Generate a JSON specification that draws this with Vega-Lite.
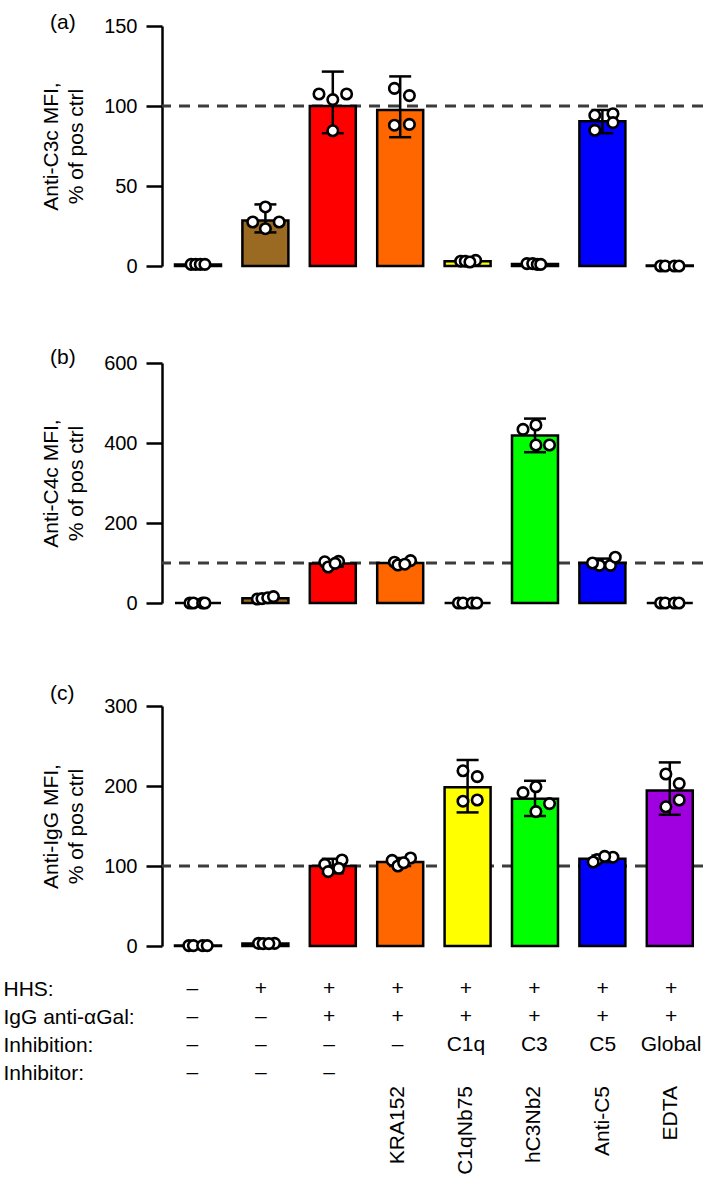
{
  "$schema": "https://vega.github.io/schema/vega-lite/v6.json",
  "padding": {"left": 3, "top": 12, "right": 0, "bottom": 0},
  "autosize": {"type": "pad"},
  "spacing": 18,
  "config": {
    "view": {"stroke": null},
    "font": "Liberation Sans",
    "axis": {"domainColor": "black", "tickColor": "black", "labelColor": "black", "titleColor": "black", "domainWidth": 2.5, "tickWidth": 2.5, "labelFontSize": 20, "titleFontSize": 21, "titleFontWeight": "normal", "grid": false, "tickSize": 16, "labelPadding": 9},
    "title": {"fontSize": 21, "fontWeight": "normal", "color": "black"}
  },
  "datasets": {
    "bars": [
      {"panel": "a", "grp": "neg", "mean": 1, "lo": 0.5, "hi": 1.5},
      {"panel": "a", "grp": "HHS", "mean": 28.5, "lo": 21, "hi": 38.5},
      {"panel": "a", "grp": "IgG+HHS", "mean": 100, "lo": 83, "hi": 121.5},
      {"panel": "a", "grp": "KRA152", "mean": 97.5, "lo": 80.5, "hi": 118.5},
      {"panel": "a", "grp": "C1qNb75", "mean": 3, "lo": 2, "hi": 4},
      {"panel": "a", "grp": "hC3Nb2", "mean": 1.2, "lo": 0.8, "hi": 1.6},
      {"panel": "a", "grp": "Anti-C5", "mean": 90.5, "lo": 83, "hi": 97.5},
      {"panel": "a", "grp": "EDTA", "mean": 0.3, "lo": 0, "hi": 0.6},
      {"panel": "b", "grp": "neg", "mean": 0, "lo": 0, "hi": 0},
      {"panel": "b", "grp": "HHS", "mean": 12, "lo": 9, "hi": 15},
      {"panel": "b", "grp": "IgG+HHS", "mean": 99, "lo": 91, "hi": 106},
      {"panel": "b", "grp": "KRA152", "mean": 100, "lo": 95, "hi": 105},
      {"panel": "b", "grp": "C1qNb75", "mean": 0, "lo": 0, "hi": 0},
      {"panel": "b", "grp": "hC3Nb2", "mean": 419, "lo": 377, "hi": 461},
      {"panel": "b", "grp": "Anti-C5", "mean": 100, "lo": 90, "hi": 111},
      {"panel": "b", "grp": "EDTA", "mean": 0, "lo": 0, "hi": 0},
      {"panel": "c", "grp": "neg", "mean": 0.5, "lo": 0.3, "hi": 0.7},
      {"panel": "c", "grp": "HHS", "mean": 3, "lo": 2, "hi": 4},
      {"panel": "c", "grp": "IgG+HHS", "mean": 100, "lo": 91, "hi": 109},
      {"panel": "c", "grp": "KRA152", "mean": 105, "lo": 100, "hi": 110},
      {"panel": "c", "grp": "C1qNb75", "mean": 198.5, "lo": 167, "hi": 232.5},
      {"panel": "c", "grp": "hC3Nb2", "mean": 184, "lo": 162.5, "hi": 206.5},
      {"panel": "c", "grp": "Anti-C5", "mean": 109, "lo": 105, "hi": 113},
      {"panel": "c", "grp": "EDTA", "mean": 194.5, "lo": 164, "hi": 229.5}
    ],
    "pts": [
      {"panel": "a", "grp": "neg", "val": 1, "jit": -0.3},
      {"panel": "a", "grp": "neg", "val": 1, "jit": -0.1},
      {"panel": "a", "grp": "neg", "val": 1, "jit": 0.1},
      {"panel": "a", "grp": "neg", "val": 1, "jit": 0.3},
      {"panel": "a", "grp": "HHS", "val": 36.9, "jit": 0},
      {"panel": "a", "grp": "HHS", "val": 27.5, "jit": -0.55},
      {"panel": "a", "grp": "HHS", "val": 27.5, "jit": 0.6},
      {"panel": "a", "grp": "HHS", "val": 23.3, "jit": 0},
      {"panel": "a", "grp": "IgG+HHS", "val": 107.5, "jit": -0.6},
      {"panel": "a", "grp": "IgG+HHS", "val": 107.5, "jit": 0.6},
      {"panel": "a", "grp": "IgG+HHS", "val": 104, "jit": 0},
      {"panel": "a", "grp": "IgG+HHS", "val": 84.5, "jit": 0},
      {"panel": "a", "grp": "KRA152", "val": 111, "jit": -0.25},
      {"panel": "a", "grp": "KRA152", "val": 106.5, "jit": 0.4},
      {"panel": "a", "grp": "KRA152", "val": 88, "jit": -0.25},
      {"panel": "a", "grp": "KRA152", "val": 88.5, "jit": 0.4},
      {"panel": "a", "grp": "C1qNb75", "val": 3, "jit": -0.3},
      {"panel": "a", "grp": "C1qNb75", "val": 3.5, "jit": 0.35},
      {"panel": "a", "grp": "C1qNb75", "val": 3, "jit": -0.1},
      {"panel": "a", "grp": "C1qNb75", "val": 2.5, "jit": 0.1},
      {"panel": "a", "grp": "hC3Nb2", "val": 1.5, "jit": -0.35},
      {"panel": "a", "grp": "hC3Nb2", "val": 1.5, "jit": -0.1},
      {"panel": "a", "grp": "hC3Nb2", "val": 1, "jit": 0.1},
      {"panel": "a", "grp": "hC3Nb2", "val": 1, "jit": 0.25},
      {"panel": "a", "grp": "Anti-C5", "val": 94.2, "jit": -0.33},
      {"panel": "a", "grp": "Anti-C5", "val": 95.2, "jit": 0.46},
      {"panel": "a", "grp": "Anti-C5", "val": 89.6, "jit": 0.46},
      {"panel": "a", "grp": "Anti-C5", "val": 84.8, "jit": -0.33},
      {"panel": "a", "grp": "EDTA", "val": 0, "jit": -0.4},
      {"panel": "a", "grp": "EDTA", "val": 0, "jit": -0.2},
      {"panel": "a", "grp": "EDTA", "val": 0, "jit": 0.2},
      {"panel": "a", "grp": "EDTA", "val": 0, "jit": 0.4},
      {"panel": "b", "grp": "neg", "val": 0, "jit": -0.35},
      {"panel": "b", "grp": "neg", "val": 0, "jit": -0.2},
      {"panel": "b", "grp": "neg", "val": 0, "jit": 0.2},
      {"panel": "b", "grp": "neg", "val": 0, "jit": 0.3},
      {"panel": "b", "grp": "HHS", "val": 10, "jit": -0.35},
      {"panel": "b", "grp": "HHS", "val": 11, "jit": -0.15},
      {"panel": "b", "grp": "HHS", "val": 13, "jit": 0.1},
      {"panel": "b", "grp": "HHS", "val": 16, "jit": 0.35},
      {"panel": "b", "grp": "IgG+HHS", "val": 103, "jit": -0.35},
      {"panel": "b", "grp": "IgG+HHS", "val": 104, "jit": 0.25},
      {"panel": "b", "grp": "IgG+HHS", "val": 90, "jit": -0.2},
      {"panel": "b", "grp": "IgG+HHS", "val": 99, "jit": 0.1},
      {"panel": "b", "grp": "KRA152", "val": 102, "jit": -0.25},
      {"panel": "b", "grp": "KRA152", "val": 106, "jit": 0.45},
      {"panel": "b", "grp": "KRA152", "val": 95, "jit": -0.1},
      {"panel": "b", "grp": "KRA152", "val": 97, "jit": 0.2},
      {"panel": "b", "grp": "C1qNb75", "val": 0, "jit": -0.4},
      {"panel": "b", "grp": "C1qNb75", "val": 0, "jit": -0.2},
      {"panel": "b", "grp": "C1qNb75", "val": 0, "jit": 0.2},
      {"panel": "b", "grp": "C1qNb75", "val": 0, "jit": 0.4},
      {"panel": "b", "grp": "hC3Nb2", "val": 434, "jit": -0.52},
      {"panel": "b", "grp": "hC3Nb2", "val": 445, "jit": 0.04},
      {"panel": "b", "grp": "hC3Nb2", "val": 395, "jit": 0.04},
      {"panel": "b", "grp": "hC3Nb2", "val": 395, "jit": 0.63},
      {"panel": "b", "grp": "Anti-C5", "val": 94, "jit": -0.13},
      {"panel": "b", "grp": "Anti-C5", "val": 94, "jit": 0.35},
      {"panel": "b", "grp": "Anti-C5", "val": 114.5, "jit": 0.56},
      {"panel": "b", "grp": "Anti-C5", "val": 100, "jit": -0.43},
      {"panel": "b", "grp": "EDTA", "val": 0, "jit": -0.4},
      {"panel": "b", "grp": "EDTA", "val": 0, "jit": -0.2},
      {"panel": "b", "grp": "EDTA", "val": 0, "jit": 0.2},
      {"panel": "b", "grp": "EDTA", "val": 0, "jit": 0.4},
      {"panel": "c", "grp": "neg", "val": 0.5, "jit": -0.4},
      {"panel": "c", "grp": "neg", "val": 0.5, "jit": -0.2},
      {"panel": "c", "grp": "neg", "val": 0.5, "jit": 0.2},
      {"panel": "c", "grp": "neg", "val": 0.5, "jit": 0.4},
      {"panel": "c", "grp": "HHS", "val": 3.3, "jit": -0.3},
      {"panel": "c", "grp": "HHS", "val": 3.3, "jit": 0.4},
      {"panel": "c", "grp": "HHS", "val": 3, "jit": -0.1},
      {"panel": "c", "grp": "HHS", "val": 3, "jit": 0.15},
      {"panel": "c", "grp": "IgG+HHS", "val": 102, "jit": -0.35},
      {"panel": "c", "grp": "IgG+HHS", "val": 107.5, "jit": 0.4},
      {"panel": "c", "grp": "IgG+HHS", "val": 93, "jit": -0.2},
      {"panel": "c", "grp": "IgG+HHS", "val": 97, "jit": 0.26},
      {"panel": "c", "grp": "KRA152", "val": 107, "jit": -0.35},
      {"panel": "c", "grp": "KRA152", "val": 110, "jit": 0.45},
      {"panel": "c", "grp": "KRA152", "val": 100, "jit": -0.1},
      {"panel": "c", "grp": "KRA152", "val": 104, "jit": 0.15},
      {"panel": "c", "grp": "C1qNb75", "val": 219, "jit": -0.2},
      {"panel": "c", "grp": "C1qNb75", "val": 211.7, "jit": 0.42},
      {"panel": "c", "grp": "C1qNb75", "val": 181, "jit": -0.2},
      {"panel": "c", "grp": "C1qNb75", "val": 182.5, "jit": 0.42},
      {"panel": "c", "grp": "hC3Nb2", "val": 191.7, "jit": -0.52},
      {"panel": "c", "grp": "hC3Nb2", "val": 199, "jit": 0.04},
      {"panel": "c", "grp": "hC3Nb2", "val": 178, "jit": 0.63},
      {"panel": "c", "grp": "hC3Nb2", "val": 168, "jit": 0.04},
      {"panel": "c", "grp": "Anti-C5", "val": 108, "jit": -0.23},
      {"panel": "c", "grp": "Anti-C5", "val": 111, "jit": 0.46},
      {"panel": "c", "grp": "Anti-C5", "val": 112, "jit": 0.1},
      {"panel": "c", "grp": "Anti-C5", "val": 105, "jit": -0.4},
      {"panel": "c", "grp": "EDTA", "val": 215, "jit": -0.17},
      {"panel": "c", "grp": "EDTA", "val": 203, "jit": 0.41},
      {"panel": "c", "grp": "EDTA", "val": 182.5, "jit": 0.41},
      {"panel": "c", "grp": "EDTA", "val": 174, "jit": -0.17}
    ],
    "tbl": [
      {"grp": "neg", "row": "HHS:", "txt": "–"},
      {"grp": "HHS", "row": "HHS:", "txt": "+"},
      {"grp": "IgG+HHS", "row": "HHS:", "txt": "+"},
      {"grp": "KRA152", "row": "HHS:", "txt": "+"},
      {"grp": "C1qNb75", "row": "HHS:", "txt": "+"},
      {"grp": "hC3Nb2", "row": "HHS:", "txt": "+"},
      {"grp": "Anti-C5", "row": "HHS:", "txt": "+"},
      {"grp": "EDTA", "row": "HHS:", "txt": "+"},
      {"grp": "neg", "row": "IgG anti-αGal:", "txt": "–"},
      {"grp": "HHS", "row": "IgG anti-αGal:", "txt": "–"},
      {"grp": "IgG+HHS", "row": "IgG anti-αGal:", "txt": "+"},
      {"grp": "KRA152", "row": "IgG anti-αGal:", "txt": "+"},
      {"grp": "C1qNb75", "row": "IgG anti-αGal:", "txt": "+"},
      {"grp": "hC3Nb2", "row": "IgG anti-αGal:", "txt": "+"},
      {"grp": "Anti-C5", "row": "IgG anti-αGal:", "txt": "+"},
      {"grp": "EDTA", "row": "IgG anti-αGal:", "txt": "+"},
      {"grp": "neg", "row": "Inhibition:", "txt": "–"},
      {"grp": "HHS", "row": "Inhibition:", "txt": "–"},
      {"grp": "IgG+HHS", "row": "Inhibition:", "txt": "–"},
      {"grp": "KRA152", "row": "Inhibition:", "txt": "–"},
      {"grp": "C1qNb75", "row": "Inhibition:", "txt": "C1q"},
      {"grp": "hC3Nb2", "row": "Inhibition:", "txt": "C3"},
      {"grp": "Anti-C5", "row": "Inhibition:", "txt": "C5"},
      {"grp": "EDTA", "row": "Inhibition:", "txt": "Global"},
      {"grp": "neg", "row": "Inhibitor:", "txt": "–"},
      {"grp": "HHS", "row": "Inhibitor:", "txt": "–"},
      {"grp": "IgG+HHS", "row": "Inhibitor:", "txt": "–"},
      {"grp": "KRA152", "row": "Inhibitor:", "txt": "KRA152"},
      {"grp": "C1qNb75", "row": "Inhibitor:", "txt": "C1qNb75"},
      {"grp": "hC3Nb2", "row": "Inhibitor:", "txt": "hC3Nb2"},
      {"grp": "Anti-C5", "row": "Inhibitor:", "txt": "Anti-C5"},
      {"grp": "EDTA", "row": "Inhibitor:", "txt": "EDTA"}
    ],
    "ref": [{"pos": 100}]
  },
  "vconcat": [
    {
      "title": {"text": "(a)", "anchor": "start", "frame": "group", "dx": -112, "offset": -28, "baseline": "middle"},
      "width": 547, "height": 240,
      "layer": [
        {"data": {"name": "ref"}, "mark": {"type": "rule", "strokeDash": [11, 8], "strokeDashOffset": 13, "strokeWidth": 3, "color": "#3c3c3c"}, "encoding": {"y": {"field": "pos", "type": "quantitative"}}},
        {"data": {"name": "bars"}, "transform": [{"filter": "datum.panel === 'a'"}],
         "mark": {"type": "bar", "stroke": "black", "strokeWidth": 2.5, "width": 46},
         "encoding": {
           "x": {"field": "grp", "type": "nominal", "axis": {"labels": false, "ticks": false, "domain": false, "title": null, "minExtent": 63, "maxExtent": 63}, "scale": {"domain": ["neg", "HHS", "IgG+HHS", "KRA152", "C1qNb75", "hC3Nb2", "Anti-C5", "EDTA"], "paddingInner": 0.317, "paddingOuter": 0.2165, "align": 0.445}},
           "y": {"field": "mean", "type": "quantitative", "scale": {"domain": [0, 150], "nice": false}, "axis": {"values": [0, 50, 100, 150], "title": ["Anti-C3c MFI,", "% of pos ctrl"], "titleLineHeight": 25, "titlePadding": 17}},
           "color": {"field": "grp", "type": "nominal", "legend": null, "scale": {"domain": ["neg", "HHS", "IgG+HHS", "KRA152", "C1qNb75", "hC3Nb2", "Anti-C5", "EDTA"], "range": ["#ffffff", "#9B6A22", "#FF0000", "#FF6600", "#FFFF00", "#00FF00", "#0000FF", "#A000E0"]}}
         }},
        {"data": {"name": "bars"}, "transform": [{"filter": "datum.panel === 'a'"}], "mark": {"type": "rule", "strokeWidth": 2.5, "color": "black"}, "encoding": {"x": {"field": "grp", "type": "nominal"}, "y": {"field": "lo", "type": "quantitative"}, "y2": {"field": "hi"}}},
        {"data": {"name": "bars"}, "transform": [{"filter": "datum.panel === 'a'"}], "mark": {"type": "tick", "size": 22, "thickness": 2.5, "color": "black", "opacity": 1}, "encoding": {"x": {"field": "grp", "type": "nominal"}, "y": {"field": "lo", "type": "quantitative"}}},
        {"data": {"name": "bars"}, "transform": [{"filter": "datum.panel === 'a'"}], "mark": {"type": "tick", "size": 22, "thickness": 2.5, "color": "black", "opacity": 1}, "encoding": {"x": {"field": "grp", "type": "nominal"}, "y": {"field": "hi", "type": "quantitative"}}},
        {"data": {"name": "pts"}, "transform": [{"filter": "datum.panel === 'a'"}], "mark": {"type": "point", "shape": "circle", "filled": false, "fill": "white", "fillOpacity": 1, "stroke": "black", "strokeWidth": 2.6, "size": 110, "opacity": 1}, "encoding": {"x": {"field": "grp", "type": "nominal"}, "xOffset": {"field": "jit", "type": "quantitative", "scale": {"domain": [-1, 1]}}, "y": {"field": "val", "type": "quantitative"}}}
      ]
    },
    {
      "title": {"text": "(b)", "anchor": "start", "frame": "group", "dx": -112, "offset": -26, "baseline": "middle"},
      "width": 547, "height": 240,
      "layer": [
        {"data": {"name": "ref"}, "mark": {"type": "rule", "strokeDash": [11, 8], "strokeDashOffset": 13, "strokeWidth": 3, "color": "#3c3c3c"}, "encoding": {"y": {"field": "pos", "type": "quantitative"}}},
        {"data": {"name": "bars"}, "transform": [{"filter": "datum.panel === 'b'"}],
         "mark": {"type": "bar", "stroke": "black", "strokeWidth": 2.5, "width": 46},
         "encoding": {
           "x": {"field": "grp", "type": "nominal", "axis": {"labels": false, "ticks": false, "domain": false, "title": null, "minExtent": 62, "maxExtent": 62}, "scale": {"domain": ["neg", "HHS", "IgG+HHS", "KRA152", "C1qNb75", "hC3Nb2", "Anti-C5", "EDTA"], "paddingInner": 0.317, "paddingOuter": 0.2165, "align": 0.445}},
           "y": {"field": "mean", "type": "quantitative", "scale": {"domain": [0, 600], "nice": false}, "axis": {"values": [0, 100, 200, 300, 400, 500, 600], "labelExpr": "datum.value % 200 === 0 ? datum.label : ''", "tickSize": {"condition": {"test": "datum.value % 200 === 0", "value": 16}, "value": 10}, "title": ["Anti-C4c MFI,", "% of pos ctrl"], "titleLineHeight": 25, "titlePadding": 17}},
           "color": {"field": "grp", "type": "nominal", "legend": null, "scale": {"domain": ["neg", "HHS", "IgG+HHS", "KRA152", "C1qNb75", "hC3Nb2", "Anti-C5", "EDTA"], "range": ["#ffffff", "#9B6A22", "#FF0000", "#FF6600", "#FFFF00", "#00FF00", "#0000FF", "#A000E0"]}}
         }},
        {"data": {"name": "bars"}, "transform": [{"filter": "datum.panel === 'b'"}], "mark": {"type": "rule", "strokeWidth": 2.5, "color": "black"}, "encoding": {"x": {"field": "grp", "type": "nominal"}, "y": {"field": "lo", "type": "quantitative"}, "y2": {"field": "hi"}}},
        {"data": {"name": "bars"}, "transform": [{"filter": "datum.panel === 'b'"}], "mark": {"type": "tick", "size": 22, "thickness": 2.5, "color": "black", "opacity": 1}, "encoding": {"x": {"field": "grp", "type": "nominal"}, "y": {"field": "lo", "type": "quantitative"}}},
        {"data": {"name": "bars"}, "transform": [{"filter": "datum.panel === 'b'"}], "mark": {"type": "tick", "size": 22, "thickness": 2.5, "color": "black", "opacity": 1}, "encoding": {"x": {"field": "grp", "type": "nominal"}, "y": {"field": "hi", "type": "quantitative"}}},
        {"data": {"name": "pts"}, "transform": [{"filter": "datum.panel === 'b'"}], "mark": {"type": "point", "shape": "circle", "filled": false, "fill": "white", "fillOpacity": 1, "stroke": "black", "strokeWidth": 2.6, "size": 110, "opacity": 1}, "encoding": {"x": {"field": "grp", "type": "nominal"}, "xOffset": {"field": "jit", "type": "quantitative", "scale": {"domain": [-1, 1]}}, "y": {"field": "val", "type": "quantitative"}}}
      ]
    },
    {
      "title": {"text": "(c)", "anchor": "start", "frame": "group", "dx": -112, "offset": -19, "baseline": "middle"},
      "width": 547, "height": 240,
      "layer": [
        {"data": {"name": "ref"}, "mark": {"type": "rule", "strokeDash": [11, 8], "strokeDashOffset": 13, "strokeWidth": 3, "color": "#3c3c3c"}, "encoding": {"y": {"field": "pos", "type": "quantitative"}}},
        {"data": {"name": "bars"}, "transform": [{"filter": "datum.panel === 'c'"}],
         "mark": {"type": "bar", "stroke": "black", "strokeWidth": 2.5, "width": 46},
         "encoding": {
           "x": {"field": "grp", "type": "nominal", "axis": null, "scale": {"domain": ["neg", "HHS", "IgG+HHS", "KRA152", "C1qNb75", "hC3Nb2", "Anti-C5", "EDTA"], "paddingInner": 0.317, "paddingOuter": 0.2165, "align": 0.445}},
           "y": {"field": "mean", "type": "quantitative", "scale": {"domain": [0, 300], "nice": false}, "axis": {"values": [0, 50, 100, 150, 200, 250, 300], "labelExpr": "datum.value % 100 === 0 ? datum.label : ''", "tickSize": {"condition": {"test": "datum.value % 100 === 0", "value": 16}, "value": 10}, "title": ["Anti-IgG MFI,", "% of pos ctrl"], "titleLineHeight": 25, "titlePadding": 17}},
           "color": {"field": "grp", "type": "nominal", "legend": null, "scale": {"domain": ["neg", "HHS", "IgG+HHS", "KRA152", "C1qNb75", "hC3Nb2", "Anti-C5", "EDTA"], "range": ["#ffffff", "#9B6A22", "#FF0000", "#FF6600", "#FFFF00", "#00FF00", "#0000FF", "#A000E0"]}}
         }},
        {"data": {"name": "bars"}, "transform": [{"filter": "datum.panel === 'c'"}], "mark": {"type": "rule", "strokeWidth": 2.5, "color": "black"}, "encoding": {"x": {"field": "grp", "type": "nominal", "axis": null}, "y": {"field": "lo", "type": "quantitative"}, "y2": {"field": "hi"}}},
        {"data": {"name": "bars"}, "transform": [{"filter": "datum.panel === 'c'"}], "mark": {"type": "tick", "size": 22, "thickness": 2.5, "color": "black", "opacity": 1}, "encoding": {"x": {"field": "grp", "type": "nominal", "axis": null}, "y": {"field": "lo", "type": "quantitative"}}},
        {"data": {"name": "bars"}, "transform": [{"filter": "datum.panel === 'c'"}], "mark": {"type": "tick", "size": 22, "thickness": 2.5, "color": "black", "opacity": 1}, "encoding": {"x": {"field": "grp", "type": "nominal", "axis": null}, "y": {"field": "hi", "type": "quantitative"}}},
        {"data": {"name": "pts"}, "transform": [{"filter": "datum.panel === 'c'"}], "mark": {"type": "point", "shape": "circle", "filled": false, "fill": "white", "fillOpacity": 1, "stroke": "black", "strokeWidth": 2.6, "size": 110, "opacity": 1}, "encoding": {"x": {"field": "grp", "type": "nominal", "axis": null}, "xOffset": {"field": "jit", "type": "quantitative", "scale": {"domain": [-1, 1]}}, "y": {"field": "val", "type": "quantitative"}}}
      ]
    },
    {
      "width": 547, "height": 112,
      "data": {"name": "tbl"},
      "layer": [
        {"transform": [{"filter": "datum.row !== 'Inhibitor:' || datum.txt === '–'"}],
         "mark": {"type": "text", "fontSize": 21, "baseline": "middle", "align": "center", "color": "black"},
         "encoding": {
           "x": {"field": "grp", "type": "nominal", "axis": null, "scale": {"domain": ["neg", "HHS", "IgG+HHS", "KRA152", "C1qNb75", "hC3Nb2", "Anti-C5", "EDTA"], "paddingInner": 0.317, "paddingOuter": 0.2165, "align": 0.445}},
           "y": {"field": "row", "type": "nominal", "scale": {"domain": ["HHS:", "IgG anti-αGal:", "Inhibition:", "Inhibitor:"]}, "axis": {"title": null, "ticks": false, "domain": false, "labelAlign": "left", "labelBaseline": "middle", "labelPadding": 159, "labelFontSize": 21}},
           "text": {"field": "txt"}
         }},
        {"transform": [{"filter": "datum.row === 'Inhibitor:' && datum.txt !== '–'"}],
         "mark": {"type": "text", "fontSize": 21, "baseline": "middle", "align": "right", "angle": 270, "dx": -13, "color": "black"},
         "encoding": {
           "x": {"field": "grp", "type": "nominal", "axis": null},
           "y": {"field": "row", "type": "nominal"},
           "text": {"field": "txt"}
         }}
      ]
    }
  ]
}
